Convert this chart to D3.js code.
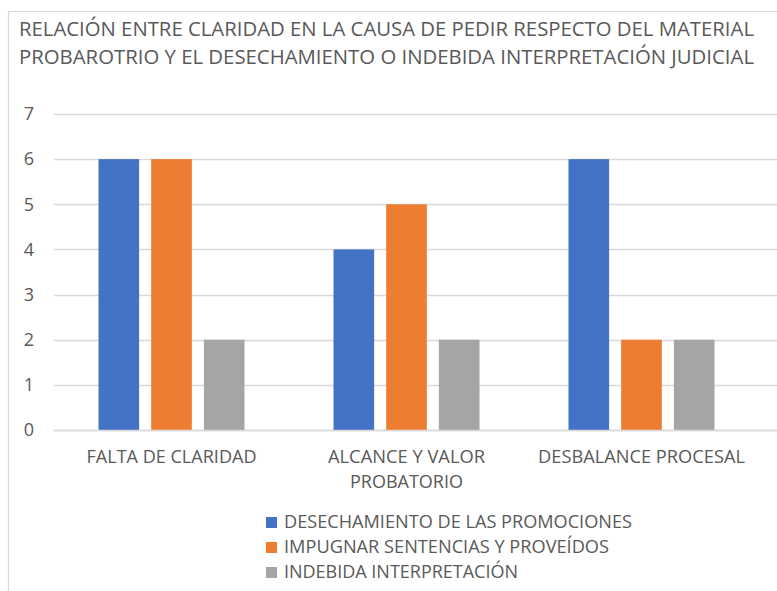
<!DOCTYPE html>
<html>
<head>
<meta charset="utf-8">
<script src="https://cdn.jsdelivr.net/npm/d3@7/dist/d3.min.js"></script>
<style>
html,body{margin:0;padding:0;background:#fff;}
svg{display:block;}
text{font-family:"Open Sans","DejaVu Sans",sans-serif;fill:#595959;}
</style>
</head>
<body>
<svg id="chart" width="777" height="591"></svg>
<script>
const titleLines = [
  "RELACIÓN ENTRE CLARIDAD EN LA CAUSA DE PEDIR RESPECTO DEL MATERIAL",
  "PROBAROTRIO Y EL DESECHAMIENTO O INDEBIDA INTERPRETACIÓN JUDICIAL"
];
const categories = ["FALTA DE CLARIDAD", "ALCANCE Y VALOR PROBATORIO", "DESBALANCE PROCESAL"];
const categoryLines = [["FALTA DE CLARIDAD"], ["ALCANCE Y VALOR", "PROBATORIO"], ["DESBALANCE PROCESAL"]];
const seriesNames = ["DESECHAMIENTO DE LAS PROMOCIONES", "IMPUGNAR SENTENCIAS Y PROVEÍDOS", "INDEBIDA INTERPRETACIÓN"];
const desechamiento = [6, 4, 6];
const impugnar = [6, 5, 2];
const indebida = [2, 2, 2];
const yTicks = [0, 1, 2, 3, 4, 5, 6, 7];
const colors = ["#4472C4", "#ED7D31", "#A5A5A5"];

const seriesValues = [desechamiento, impugnar, indebida];
const svg = d3.select("#chart");
const W = 777, H = 591;

// frame
svg.append("path").attr("d", `M8.5,${H} V11.5 H${W}`).attr("fill", "none").attr("stroke", "#d9d9d9").attr("stroke-width", 1.2);

// title
const titleWidths = [735, 735];
svg.selectAll("text.title").data(titleLines).join("text")
  .attr("class", "title")
  .attr("x", 19).attr("y", (d, i) => 36 + i * 28)
  .attr("font-size", 19.5)
  .attr("textLength", (d, i) => titleWidths[i])
  .attr("lengthAdjust", "spacingAndGlyphs")
  .text(d => d);

const x0 = d3.scaleBand().domain(categories).range([54, 759]).padding(0);
const x1 = d3.scaleBand().domain(seriesNames).range([44.5, 190.5]).paddingInner(0.229).paddingOuter(0);
const y = d3.scaleLinear().domain([0, 7]).range([430, 114]);

// gridlines
svg.append("g").selectAll("line").data(yTicks).join("line")
  .attr("x1", 54).attr("x2", W)
  .attr("y1", d => Math.round(y(d)) + 0.5).attr("y2", d => Math.round(y(d)) + 0.5)
  .attr("stroke", "#d9d9d9").attr("stroke-width", 1.3);

// y axis labels
const yAxis = d3.axisLeft(y).tickValues(yTicks).tickFormat(d3.format("d")).tickSize(0).tickPadding(0);
const gy = svg.append("g").attr("transform", "translate(34,0)").call(yAxis);
gy.select(".domain").remove();
gy.selectAll("text").attr("font-size", 18).attr("fill", "#595959")
  .style("font-family", '"Open Sans","DejaVu Sans",sans-serif');

// bars
const groups = svg.append("g").selectAll("g").data(categories).join("g")
  .attr("transform", d => `translate(${x0(d)},0)`);
groups.selectAll("rect").data((c, ci) => seriesNames.map((s, si) => ({s, si, v: seriesValues[si][ci]}))).join("rect")
  .attr("x", d => x1(d.s)).attr("width", x1.bandwidth())
  .attr("y", d => y(d.v)).attr("height", d => y(0) - y(d.v))
  .attr("fill", d => colors[d.si]);

// x axis baseline
svg.append("line").attr("x1", 54).attr("x2", W).attr("y1", 430.5).attr("y2", 430.5)
  .attr("stroke", "#d9d9d9").attr("stroke-width", 1.5);

// category labels
const catWidths = [[170], [157, 113], [207]];
categories.forEach((c, ci) => {
  categoryLines[ci].forEach((line, li) => {
    svg.append("text")
      .attr("x", x0(c) + x0.bandwidth() / 2)
      .attr("y", 463 + li * 25)
      .attr("text-anchor", "middle")
      .attr("font-size", 18)
      .attr("textLength", catWidths[ci][li])
      .attr("lengthAdjust", "spacingAndGlyphs")
      .text(line);
  });
});

// legend
const legWidths = [348, 325, 234];
const leg = svg.append("g").selectAll("g").data(seriesNames).join("g")
  .attr("transform", (d, i) => `translate(266,${528 + i * 25})`);
leg.append("rect").attr("x", 0).attr("y", -11).attr("width", 11).attr("height", 11)
  .attr("fill", (d, i) => colors[i]);
leg.append("text").attr("x", 18).attr("y", 0).attr("font-size", 18)
  .attr("textLength", (d, i) => legWidths[i])
  .attr("lengthAdjust", "spacingAndGlyphs")
  .text(d => d);
</script>
</body>
</html>
